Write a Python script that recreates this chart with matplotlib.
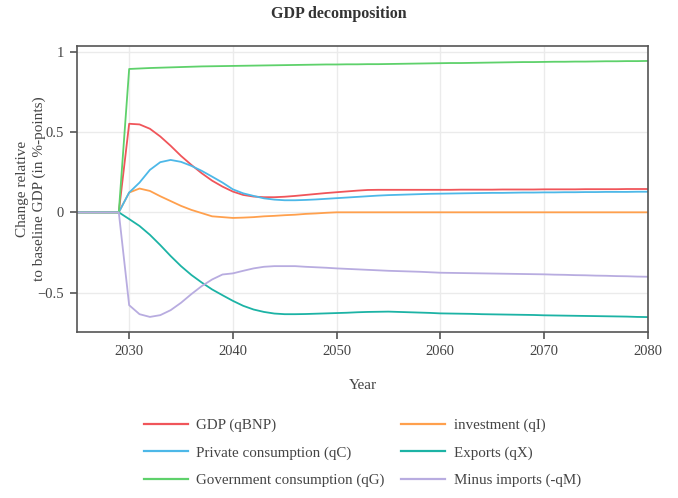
import matplotlib
matplotlib.use("Agg")
import matplotlib.pyplot as plt
import numpy as np

years = list(range(2025, 2081))

gdp_head = [0, 0, 0, 0, 0, 0.551, 0.547, 0.52, 0.472, 0.414, 0.351, 0.295, 0.243, 0.197, 0.16,
            0.129, 0.108, 0.098, 0.094, 0.094, 0.097, 0.102, 0.108, 0.114, 0.120, 0.125, 0.130,
            0.135, 0.139, 0.140]
priv_head = [0, 0, 0, 0, 0, 0.123, 0.185, 0.264, 0.312, 0.326, 0.314, 0.289, 0.258, 0.222, 0.185,
             0.143, 0.118, 0.102, 0.087, 0.079, 0.075, 0.075, 0.077, 0.080, 0.084, 0.088, 0.092,
             0.096, 0.100, 0.104]
inv_head = [0, 0, 0, 0, 0, 0.123, 0.148, 0.133, 0.10, 0.07, 0.04, 0.015, -0.005, -0.025, -0.03,
            -0.035, -0.033, -0.03, -0.025, -0.022, -0.018, -0.015, -0.01, -0.007, -0.003, 0.0, 0.0,
            0.0, 0.0, 0.0]
exp_head = [0, 0, 0, 0, 0, -0.042, -0.085, -0.14, -0.204, -0.272, -0.335, -0.39, -0.437, -0.48, -0.516,
            -0.551, -0.582, -0.605, -0.62, -0.63, -0.634, -0.634, -0.633, -0.631, -0.629, -0.627, -0.625,
            -0.622, -0.620, -0.619]
imp_head = [0, 0, 0, 0, 0, -0.578, -0.634, -0.651, -0.64, -0.609, -0.563, -0.509, -0.459, -0.418, -0.387,
            -0.38, -0.364, -0.349, -0.339, -0.335, -0.335, -0.335, -0.339, -0.342, -0.345, -0.349, -0.352,
            -0.355, -0.358, -0.361]
gov_head = [0, 0, 0, 0, 0, 0.892, 0.895, 0.898, 0.900, 0.902, 0.904, 0.906, 0.908, 0.909, 0.910,
            0.911, 0.912, 0.913, 0.914, 0.915, 0.916, 0.917, 0.918, 0.919, 0.920, 0.920, 0.921,
            0.921, 0.922, 0.922]

# tails 2055..2080 (26 values)
gdp_tail = [0.140, 0.140, 0.140, 0.140, 0.140, 0.140, 0.140, 0.141, 0.141, 0.141, 0.141, 0.142, 0.142,
            0.142, 0.142, 0.143, 0.143, 0.143, 0.143, 0.144, 0.144, 0.144, 0.144, 0.145, 0.145, 0.145]
priv_tail = [0.107, 0.109, 0.111, 0.113, 0.115, 0.116, 0.117, 0.118, 0.119, 0.120, 0.121, 0.121, 0.122,
             0.123, 0.123, 0.124, 0.124, 0.125, 0.125, 0.126, 0.126, 0.127, 0.127, 0.127, 0.128, 0.128]
inv_tail = [0.0] * 26
exp_tail = [-0.618, -0.620, -0.622, -0.624, -0.626, -0.629, -0.630, -0.631, -0.632, -0.634, -0.635, -0.636,
            -0.637, -0.638, -0.639, -0.641, -0.642, -0.643, -0.644, -0.645, -0.646, -0.647, -0.648, -0.649,
            -0.651, -0.652]
imp_tail = [-0.364, -0.366, -0.368, -0.370, -0.373, -0.376, -0.377, -0.378, -0.379, -0.380, -0.381, -0.382,
            -0.383, -0.384, -0.385, -0.386, -0.388, -0.389, -0.391, -0.392, -0.394, -0.395, -0.397, -0.398,
            -0.400, -0.401]
gov_tail = [0.923, 0.924, 0.925, 0.926, 0.927, 0.928, 0.929, 0.929, 0.930, 0.931, 0.932, 0.933, 0.934,
            0.935, 0.935, 0.936, 0.937, 0.937, 0.938, 0.938, 0.939, 0.940, 0.940, 0.941, 0.941, 0.942]

series_names = ["GDP (qBNP)", "investment (qI)", "Private consumption (qC)", "Exports (qX)",
                "Government consumption (qG)", "Minus imports (-qM)"]
series_values = [gdp_head + gdp_tail, inv_head + inv_tail, priv_head + priv_tail,
                 exp_head + exp_tail, gov_head + gov_tail, imp_head + imp_tail]
series_colors = ["#F0555A", "#FFA04D", "#4DB8E8", "#1CB3A5", "#5ED16B", "#B8ACE0"]

x_ticks = [2030, 2040, 2050, 2060, 2070, 2080]
y_ticks = [-0.5, 0, 0.5, 1]
y_ticklabels = ["\u22120.5", "0", "0.5", "1"]

plt.rcParams['font.family'] = ['Liberation Serif', 'DejaVu Serif']

fig = plt.figure(figsize=(6.78, 4.98), dpi=100)
ax = fig.add_axes([77.3 / 678, 1 - 331.7 / 498, (647.7 - 77.3) / 678, (331.7 - 46) / 498])

handles = {}
for name, vals, col in zip(series_names, series_values, series_colors):
    ln, = ax.plot(years, vals, color=col, lw=1.3, label=name)
    handles[name] = ln

ax.set_xlim(2025, 2080)
ax.set_ylim(-0.743, 1.035)
ax.set_xticks(x_ticks)
ax.set_xticklabels([str(t) for t in x_ticks])
ax.set_yticks(y_ticks)
ax.set_yticklabels(y_ticklabels)
ax.grid(True, color="#ebebeb", lw=1)
ax.set_axisbelow(True)
for s in ax.spines.values():
    s.set_color("#555555")
    s.set_linewidth(1.2)
ax.tick_params(direction="out", length=5, width=1.2, color="#555555", labelsize=10.5,
               labelcolor="#444444", pad=4.5)

ax.set_xlabel("Year", fontsize=11, color="#444444")
ax.xaxis.set_label_coords(0.5, -(385 - 331.7) / (331.7 - 46), transform=ax.transAxes)
ax.xaxis.label.set_va("center")
fig.text(31 / 678, 1 - 189 / 498, "Change relative\nto baseline GDP (in %-points)", fontsize=11,
         color="#444444", rotation=90, ha="center", va="center", multialignment="center",
         linespacing=1.25)
fig.suptitle("GDP decomposition", fontsize=11.5, fontweight="bold", color="#333333", y=0.972,
             va="center")

order = ["GDP (qBNP)", "Private consumption (qC)", "Government consumption (qG)",
         "investment (qI)", "Exports (qX)", "Minus imports (-qM)"]
leg = fig.legend([handles[n] for n in order], order, loc="center",
                 bbox_to_anchor=(362.5 / 678, 1 - 453 / 498), ncol=2, frameon=False,
                 fontsize=10.8, handlelength=2.9, handletextpad=0.6, columnspacing=1.1,
                 labelspacing=0.92, labelcolor="#444444")
for h in leg.get_lines():
    h.set_linewidth(1.6)

fig.savefig("out.png", dpi=100)
